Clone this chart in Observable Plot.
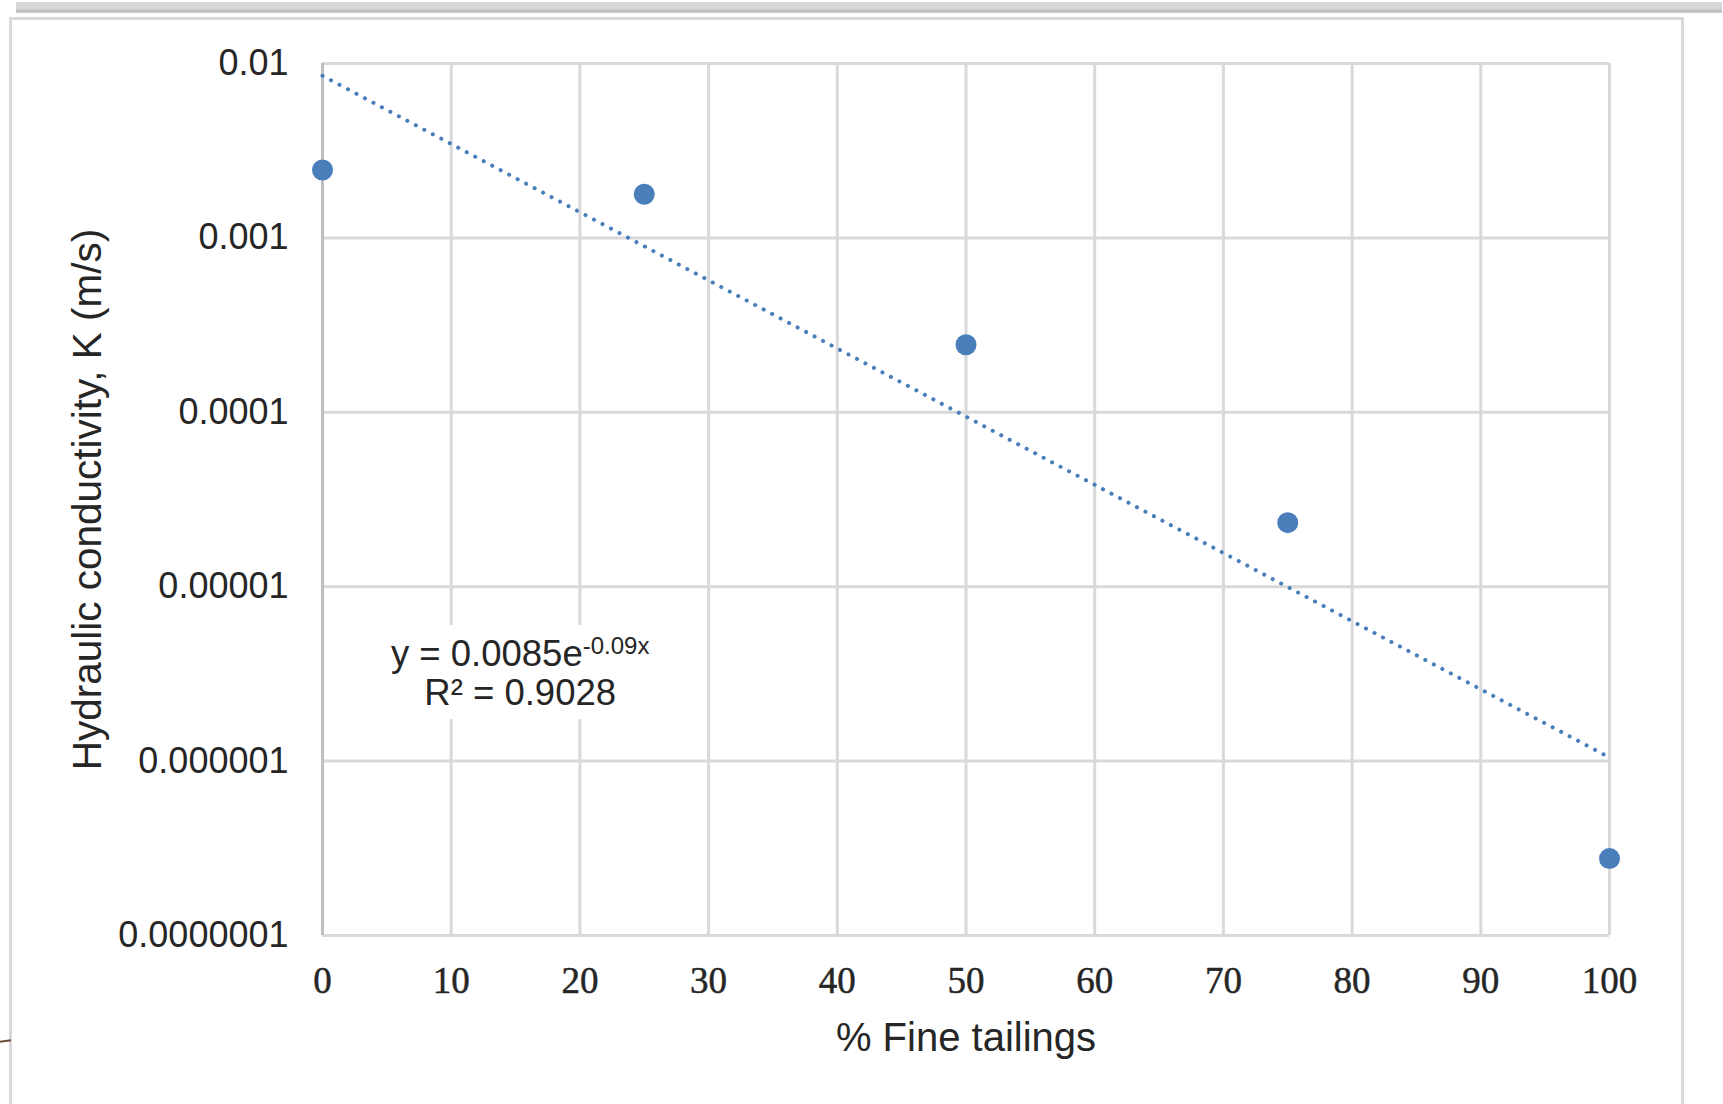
<!DOCTYPE html>
<html><head><meta charset="utf-8">
<script src="https://cdn.jsdelivr.net/npm/d3@7"></script>
<script src="https://cdn.jsdelivr.net/npm/@observablehq/plot@0.6"></script>
<style>
html,body{margin:0;padding:0;background:#fff;width:1723px;height:1104px;overflow:hidden;}
#topbar{position:absolute;left:16px;top:2px;width:1706px;height:11px;background:linear-gradient(#dadada 0,#d6d6d6 60%,#bdbdbd 80%,#cfcfcf 100%);}
#panel{position:absolute;left:9px;top:17px;width:1669px;height:1100px;border:3px solid #d9d9d9;border-bottom:none;background:#fff;}
#chart{position:absolute;left:0;top:0;}
#mark{position:absolute;left:0;top:1040px;width:11px;height:2px;background:#6b4a3a;transform:rotate(-8deg);}
</style></head><body>
<div id="topbar"></div><div id="panel"></div><div id="mark"></div><div id="chart"></div>
<script>
// ---- data ----
const fineTailings = [0, 25, 50, 75, 100];
const conductivity = [0.00245, 0.00178, 0.000244, 0.0000233, 0.000000276];
const xTicks = [0, 10, 20, 30, 40, 50, 60, 70, 80, 90, 100];
const yTicks = [0.01, 0.001, 0.0001, 0.00001, 0.000001, 0.0000001];
const yTickLabels = ["0.01", "0.001", "0.0001", "0.00001", "0.000001", "0.0000001"];
const trendA = 0.0085, trendB = -0.09;
const trendXRange = [0, 100];
const eqMain = "y = 0.0085e", eqExp = "-0.09x", r2Text = "R\u00B2 = 0.9028";
const xTitle = "% Fine tailings";
const yTitle = "Hydraulic conductivity, K (m/s)";

// ---- derived ----
const points = fineTailings.map((x, i) => ({x, y: conductivity[i]}));
const trend = trendXRange.map(x => ({x, y: trendA * Math.exp(trendB * x)}));
const annPos = {x: 15.4, y: 3.22e-6};

const blue = "#4a7ebb";
const sans = "'Liberation Sans', Arial, sans-serif";
const serif = "'Liberation Serif', 'Times New Roman', serif";

function annotation(index, scales) {
  const cx = scales.x(annPos.x), cy = scales.y(annPos.y);
  const g = d3.create("svg:g");
  g.append("rect").attr("x", cx - 142).attr("y", cy - 47).attr("width", 284).attr("height", 94).attr("fill", "#fff");
  const t1 = g.append("text").attr("x", cx).attr("y", cy - 6).attr("text-anchor", "middle")
    .attr("font-family", sans).attr("font-size", 36.5).attr("fill", "#262626");
  t1.append("tspan").text(eqMain);
  t1.append("tspan").attr("dy", -12).attr("font-size", 24).text(eqExp);
  g.append("text").attr("x", cx).attr("y", cy + 33).attr("text-anchor", "middle")
    .attr("font-family", sans).attr("font-size", 36.5).attr("fill", "#262626").text(r2Text);
  return g.node();
}

const plot = Plot.plot({
  width: 1723,
  height: 1104,
  marginLeft: 322,
  marginRight: 114,
  marginTop: 63,
  marginBottom: 169,
  style: {background: "transparent", overflow: "visible"},
  x: {domain: [0, 100], axis: null},
  y: {type: "log", domain: [1e-7, 0.01], axis: null},
  marks: [
    Plot.ruleX(xTicks, {stroke: "#d9d9d9", strokeWidth: 3}),
    Plot.ruleY(yTicks, {stroke: "#d9d9d9", strokeWidth: 3}),
    Plot.ruleX([0], {stroke: "#bfbfbf", strokeWidth: 3}),
    Plot.line(trend, {x: "x", y: "y", stroke: blue, strokeWidth: 4, strokeDasharray: "0.1 9.5", strokeLinecap: "round"}),
    Plot.dot(points, {x: "x", y: "y", r: 10.5, fill: blue, stroke: "none"}),
    annotation,
    Plot.text(xTicks, {x: d => d, text: d => String(d), frameAnchor: "bottom", lineAnchor: "middle", dy: 46,
      fontSize: 37, fontFamily: serif, fill: "#262626", stroke: "#262626", strokeWidth: 0.5}),
    Plot.text(yTicks, {y: d => d, text: (d, i) => yTickLabels[i], frameAnchor: "left", textAnchor: "end", lineAnchor: "middle",
      dx: -34, fontSize: 36, fontFamily: sans, fill: "#262626"}),
    Plot.text([xTitle], {frameAnchor: "bottom", textAnchor: "middle", lineAnchor: "middle", dy: 103, fontSize: 40, fontFamily: sans, fill: "#262626"}),
    Plot.text([yTitle], {frameAnchor: "left", textAnchor: "middle", lineAnchor: "middle", rotate: -90, dx: -234, fontSize: 40.5, fontFamily: sans, fill: "#262626"})
  ]
});
document.getElementById("chart").appendChild(plot);
</script>
</body></html>
